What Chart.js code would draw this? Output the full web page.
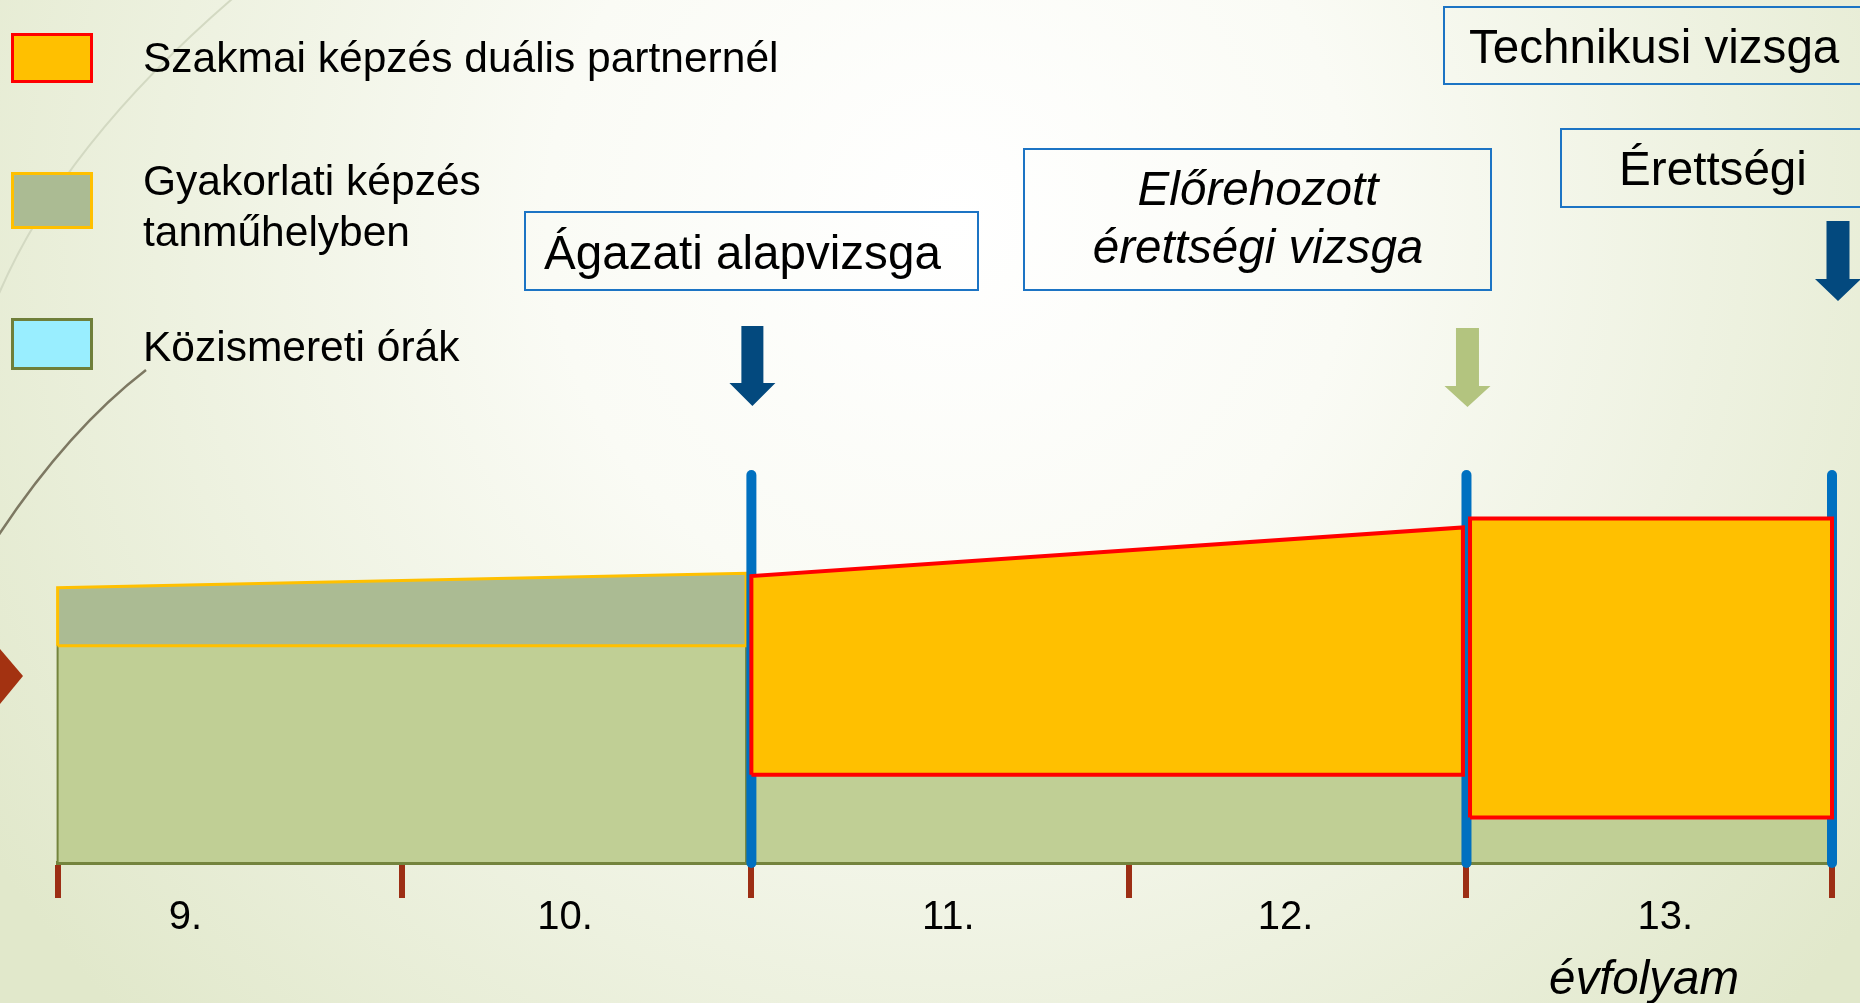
<!DOCTYPE html>
<html lang="hu">
<head>
<meta charset="utf-8">
<title>Szakmai képzés évfolyamonként</title>
<script src="https://cdn.jsdelivr.net/npm/chart.js@4.4.1/dist/chart.umd.min.js"></script>
<style>
  html, body { margin: 0; padding: 0; overflow: hidden; background: #fff; }
  #chart { display: block; }
</style>
</head>
<body>
<canvas id="chart" width="1860" height="1003"></canvas>
<script>
const FONT = '"Liberation Sans", Arial, sans-serif';

// x tengely: évfolyam határok és feliratok
const gradeLabels = ['9.', '10.', '11.', '12.', '13.'];
const gradeLabelPos = [9.36, 10.43, 11.51, 12.46, 13.53];
const yearTicks = [9, 9.97, 10.955, 12.02, 12.97, 14];

// három szakasz: 9–10., 11–12., 13. évfolyam
const blockStart = [9, 10.955, 12.98];
const blockEnd = [10.94, 12.96, 14];

// Közismereti órák – a zöld alap teteje szakaszonként
const kozismeretiTop = [55.4, 22.5, 11.6];
// Gyakorlati képzés tanműhelyben (9–10.) – eleje / vége
const tanmuhelyTop = [70.2, 73.9];
// Szakmai képzés duális partnernél – eleje / vége
const dualisTop1112 = [73.2, 85.6];
const dualisTop13 = [87.9, 87.9];

// vizsgák (függőleges kék vonalak)
const examPos = [10.955, 12.97, 14];
const examLineTop = 99;

const legendNames = ['Szakmai képzés duális partnernél', 'Gyakorlati képzés\ntanműhelyben', 'Közismereti órák'];
const legendFill = ['#FFC000', '#ABBB93', '#99EEFF'];
const legendBorder = ['#FF0000', '#FFC000', '#6F7F3A'];

function box(x0, x1, bottom, topStart, topEnd) {
  return [
    { x: x0, y: bottom }, { x: x0, y: topStart }, { x: x1, y: topEnd },
    { x: x1, y: bottom }, { x: x0, y: bottom }
  ];
}

const shapeBase = { fill: 'shape', pointRadius: 0, tension: 0, borderJoinStyle: 'miter', clip: false, xAxisID: 'x' };

const datasets = [];

// zöld alap (közismereti)
for (let i = 0; i < 3; i++) {
  datasets.push({
    ...shapeBase,
    label: 'Közismereti órák',
    data: box(blockStart[i], blockEnd[i], 0, kozismeretiTop[i], kozismeretiTop[i]),
    backgroundColor: '#C0CF95',
    borderColor: '#74843D',
    borderWidth: 2,
    order: 4
  });
}

// tanműhely
datasets.push({
  ...shapeBase,
  label: 'Gyakorlati képzés tanműhelyben',
  data: box(blockStart[0], blockEnd[0], kozismeretiTop[0], tanmuhelyTop[0], tanmuhelyTop[1]),
  backgroundColor: '#ABBB93',
  borderColor: '#FFC000',
  borderWidth: 3,
  order: 3
});

// kék vizsgavonalak
examPos.forEach(x => {
  datasets.push({
    label: 'vizsga',
    data: [{ x, y: 0 }, { x, y: examLineTop }],
    borderColor: '#0070C0',
    borderWidth: 10,
    borderCapStyle: 'round',
    pointRadius: 0,
    fill: false,
    clip: false,
    xAxisID: 'x',
    order: 2
  });
});

// duális partner
datasets.push({
  ...shapeBase,
  label: 'Szakmai képzés duális partnernél',
  data: box(blockStart[1], blockEnd[1], kozismeretiTop[1], dualisTop1112[0], dualisTop1112[1]),
  backgroundColor: '#FFC000',
  borderColor: '#FF0000',
  borderWidth: 4,
  order: 1
});
datasets.push({
  ...shapeBase,
  label: 'Szakmai képzés duális partnernél',
  data: box(blockStart[2], blockEnd[2], kozismeretiTop[2], dualisTop13[0], dualisTop13[1]),
  backgroundColor: '#FFC000',
  borderColor: '#FF0000',
  borderWidth: 4,
  order: 1
});

function drawArrow(ctx, cx, top, headY, tip, shaftW, headW, color) {
  ctx.fillStyle = color;
  ctx.beginPath();
  ctx.moveTo(cx - shaftW / 2, top);
  ctx.lineTo(cx + shaftW / 2, top);
  ctx.lineTo(cx + shaftW / 2, headY);
  ctx.lineTo(cx + headW / 2, headY);
  ctx.lineTo(cx, tip);
  ctx.lineTo(cx - headW / 2, headY);
  ctx.lineTo(cx - shaftW / 2, headY);
  ctx.closePath();
  ctx.fill();
}

function drawTextBox(ctx, x, y, w, h, lines, tx, baselines, align, italic) {
  ctx.strokeStyle = '#1C74C4';
  ctx.lineWidth = 2;
  ctx.strokeRect(x, y, w, h);
  ctx.fillStyle = '#000';
  ctx.font = (italic ? 'italic ' : '') + '47.6px ' + FONT;
  ctx.textAlign = align;
  ctx.textBaseline = 'alphabetic';
  lines.forEach((t, i) => ctx.fillText(t, tx, baselines[i]));
}

const slideDecor = {
  id: 'slideDecor',
  beforeDraw(chart) {
    const { ctx, width, height } = chart;
    ctx.save();
    const g = ctx.createRadialGradient(950, 220, 0, 950, 220, 1150);
    g.addColorStop(0, '#FFFFFF');
    g.addColorStop(0.35, '#FAFBF5');
    g.addColorStop(1, '#E1E8CB');
    ctx.fillStyle = g;
    ctx.fillRect(0, 0, width, height);

    // téma íves vonalai
    ctx.lineWidth = 2;
    ctx.strokeStyle = '#D3D9C2';
    ctx.beginPath();
    ctx.moveTo(-2, 296);
    ctx.quadraticCurveTo(61, 147, 232, -1);
    ctx.stroke();
    ctx.strokeStyle = '#7D7862';
    ctx.lineWidth = 2.5;
    ctx.beginPath();
    ctx.moveTo(-2, 536);
    ctx.quadraticCurveTo(68, 430, 146, 370);
    ctx.stroke();

    // piros jelölő a bal szélen
    ctx.fillStyle = '#A33211';
    ctx.beginPath();
    ctx.moveTo(0, 649);
    ctx.lineTo(23, 676);
    ctx.lineTo(0, 704);
    ctx.closePath();
    ctx.fill();
    ctx.restore();
  },
  afterDraw(chart) {
    const { ctx } = chart;
    const xs = chart.scales.x;
    ctx.save();

    // jelmagyarázat
    const boxes = [[33, 50], [172, 57], [318, 52]];
    const baselines = [[72], [195, 246], [361]];
    ctx.font = '42.5px ' + FONT;
    ctx.textAlign = 'left';
    ctx.textBaseline = 'alphabetic';
    legendNames.forEach((name, i) => {
      const [by, bh] = boxes[i];
      ctx.fillStyle = legendFill[i];
      ctx.fillRect(11, by, 82, bh);
      ctx.strokeStyle = legendBorder[i];
      ctx.lineWidth = 3;
      ctx.strokeRect(12.5, by + 1.5, 79, bh - 3);
      ctx.fillStyle = '#000';
      name.split('\n').forEach((t, j) => ctx.fillText(t, 143, baselines[i][j]));
    });

    // vizsga feliratok
    drawTextBox(ctx, 525, 212, 453, 78, ['Ágazati alapvizsga'], 544, [269], 'left', false);
    drawTextBox(ctx, 1024, 149, 467, 141, ['Előrehozott', 'érettségi vizsga'], 1258, [205, 263], 'center', true);
    drawTextBox(ctx, 1444, 7, 440, 77, ['Technikusi vizsga'], 1469, [63], 'left', false);
    drawTextBox(ctx, 1561, 129, 320, 78, ['Érettségi'], 1713, [185], 'center', false);

    // nyilak
    drawArrow(ctx, xs.getPixelForValue(examPos[0]) + 1, 326, 383, 406, 22, 46, '#03497E');
    drawArrow(ctx, xs.getPixelForValue(examPos[1]) + 1, 328, 386, 407, 23, 46, '#B3C47F');
    drawArrow(ctx, xs.getPixelForValue(examPos[2]) + 6, 221, 279, 301, 23, 46, '#03497E');

    // tengelycím
    ctx.fillStyle = '#000';
    ctx.font = 'italic 47.5px ' + FONT;
    ctx.textAlign = 'center';
    ctx.fillText('évfolyam', 1644, 994);
    ctx.restore();
  }
};

new Chart(document.getElementById('chart'), {
  type: 'line',
  data: { datasets },
  options: {
    responsive: false,
    animation: false,
    devicePixelRatio: 1,
    layout: { padding: { left: 57.6, right: 28, top: 471, bottom: 65 } },
    plugins: { legend: { display: false }, tooltip: { enabled: false } },
    scales: {
      x: {
        type: 'linear',
        position: 'bottom',
        min: 9,
        max: 14,
        z: 1,
        afterBuildTicks: s => { s.ticks = yearTicks.map(v => ({ value: v })); },
        ticks: { display: false },
        grid: { display: true, drawOnChartArea: false, drawTicks: true, tickLength: 35, color: '#9C2E14', lineWidth: 6 },
        border: { display: true, color: '#73833D', width: 4 }
      },
      x2: {
        type: 'linear',
        axis: 'x',
        position: 'bottom',
        min: 9,
        max: 14,
        afterBuildTicks: s => { s.ticks = gradeLabelPos.map(v => ({ value: v })); },
        ticks: {
          autoSkip: false,
          maxRotation: 0,
          padding: 0,
          color: '#000',
          font: { family: FONT, size: 40, lineHeight: 1 },
          callback: (v, i) => gradeLabels[i]
        },
        grid: { display: false, drawTicks: false },
        border: { display: false }
      },
      y: { type: 'linear', min: 0, max: 100, display: false }
    }
  },
  plugins: [slideDecor]
});
</script>
</body>
</html>
